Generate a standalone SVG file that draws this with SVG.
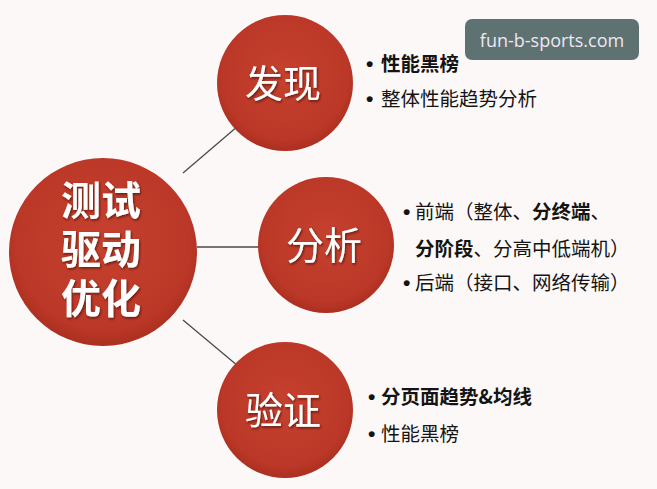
<svg xmlns="http://www.w3.org/2000/svg" width="657" height="489" viewBox="0 0 657 489">
<defs>
<radialGradient id="red" cx="50%" cy="45%" r="55%">
<stop offset="0%" stop-color="#c6412e"/>
<stop offset="85%" stop-color="#bb3727"/>
<stop offset="100%" stop-color="#ab2f20"/>
</radialGradient>
<filter id="ts" x="-10%" y="-10%" width="120%" height="130%">
<feDropShadow dx="1" dy="1.5" stdDeviation="0.8" flood-color="#3a0a05" flood-opacity="0.7"/>
</filter>
<style>
.bg{fill:#fcf8f8}
.circ{fill:url(#red)}
.ct{font-family:"Noto Sans CJK SC","Noto Sans",sans-serif;fill:#ffffff;text-anchor:middle;filter:url(#ts)}
.big{font-size:40px;font-weight:700}
.mid{font-size:38px;font-weight:400}
.lt{font-family:"Noto Sans CJK SC","Noto Sans",sans-serif;font-size:19.5px;fill:#141414}
.b{font-weight:700}
.bu{font-family:"Liberation Sans",sans-serif;font-size:21px;font-weight:700}
.conn line{stroke:#4a4a4a;stroke-width:1.3}
.wm{fill:#5e7272}
.wmt{font-family:"Open Sans","Noto Sans",sans-serif;font-size:18px;fill:#eee6f2;text-anchor:middle}
</style>
</defs>
<rect class="bg" x="0" y="0" width="657" height="489"/>
<g id="connectors" class="conn">
<line x1="183" y1="173" x2="238" y2="126"/>
<line x1="197" y1="247" x2="259" y2="247"/>
<line x1="183" y1="320" x2="238" y2="366"/>
</g>
<g id="node-center">
<circle class="circ" cx="103" cy="252" r="94"/>
<text class="ct big" x="101" y="215">测试<tspan x="101" dy="49">驱动</tspan><tspan x="101" dy="49">优化</tspan></text>
</g>
<g id="node-faxian">
<circle class="circ" cx="285" cy="83" r="68"/>
<text class="ct mid" x="283" y="97">发现</text>
</g>
<g id="node-fenxi">
<circle class="circ" cx="326" cy="245" r="68"/>
<text class="ct mid" x="324" y="259">分析</text>
</g>
<g id="node-yanzheng">
<circle class="circ" cx="285" cy="410" r="68"/>
<text class="ct mid" x="283" y="424">验证</text>
</g>
<g id="list-faxian" class="lt">
<text x="366" y="71"><tspan class="bu">•</tspan><tspan class="b" x="381">性能黑榜</tspan></text>
<text x="366" y="106"><tspan class="bu">•</tspan><tspan x="381">整体性能趋势分析</tspan></text>
</g>
<g id="list-fenxi" class="lt">
<text x="403" y="219"><tspan class="bu">•</tspan><tspan x="415">前端（整体、<tspan class="b">分终端</tspan>、</tspan></text>
<text x="415" y="256"><tspan class="b">分阶段</tspan>、分高中低端机）</text>
<text x="403" y="290"><tspan class="bu">•</tspan><tspan x="415">后端（接口、网络传输）</tspan></text>
</g>
<g id="list-yanzheng" class="lt">
<text x="368" y="404"><tspan class="bu">•</tspan><tspan class="b" x="381">分页面趋势&amp;均线</tspan></text>
<text x="368" y="441"><tspan class="bu">•</tspan><tspan x="381">性能黑榜</tspan></text>
</g>
<g id="watermark">
<rect class="wm" x="465" y="19" width="174" height="41" rx="7"/>
<text class="wmt" x="552" y="47">fun-b-sports.com</text>
</g>
</svg>
